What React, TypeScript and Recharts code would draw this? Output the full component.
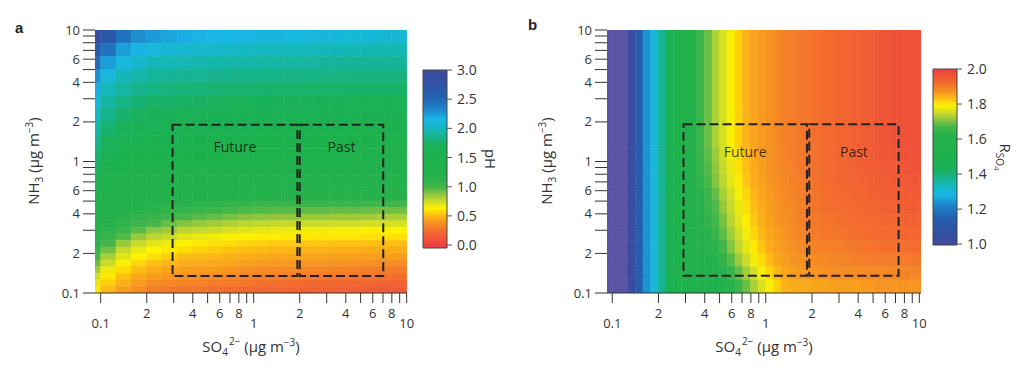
import React from 'react';
import { ScatterChart, XAxis, YAxis, ReferenceArea } from 'recharts';

// ---------------- data ----------------
// panel a cell boundaries
const so4EdgesA = [0.0794, 0.1, 0.1259, 0.1585, 0.1995, 0.2512, 0.3162, 0.3981, 0.5012, 0.631, 0.7943, 1, 1.259, 1.585, 1.995, 2.512, 3.162, 3.981, 5.012, 6.31, 7.943, 10, 12.59];
const nh3EdgesA = [0.1, 0.1122, 0.1259, 0.1413, 0.1585, 0.1778, 0.1995, 0.2239, 0.2512, 0.2818, 0.3162, 0.3548, 0.3981, 0.4467, 0.5012, 0.631, 0.7943, 1, 1.259, 1.585, 1.995, 2.512, 3.162, 3.981, 5.012, 6.31, 7.943, 10];
// panel b cell boundaries
const so4EdgesB = [0.0891, 0.1, 0.1122, 0.1259, 0.1413, 0.1585, 0.1778, 0.1995, 0.2239, 0.2512, 0.2818, 0.3162, 0.3548, 0.3981, 0.4467, 0.5012, 0.5623, 0.631, 0.7079, 0.7943, 0.8913, 1, 1.122, 1.259, 1.413, 1.585, 1.778, 1.995, 2.239, 2.512, 2.818, 3.162, 3.548, 3.981, 4.467, 5.012, 5.623, 6.31, 7.079, 7.943, 8.913, 10, 11.22];
const nh3EdgesB = [0.1, 0.1259, 0.1585, 0.1995, 0.2512, 0.3162, 0.3981, 0.5012, 0.631, 0.7943, 1, 1.259, 10];

const xTicks = [0.1, 0.2, 0.3, 0.4, 0.5, 0.6, 0.7, 0.8, 0.9, 1, 2, 3, 4, 5, 6, 7, 8, 9, 10];
const xTickText = ['0.1', '2', '', '4', '', '6', '', '8', '', '1', '2', '', '4', '', '6', '', '8', '', '10'];
const yTicks = [0.1, 0.2, 0.3, 0.4, 0.5, 0.6, 0.7, 0.8, 0.9, 1, 2, 3, 4, 5, 6, 7, 8, 9, 10];
const yTickText = ['0.1', '2', '', '4', '', '6', '', '', '', '1', '2', '', '4', '', '6', '', '', '', '10'];
const phTicks = [0, 0.5, 1, 1.5, 2, 2.5, 3];
const rTicks = [1, 1.2, 1.4, 1.6, 1.8, 2];

// pH, rows from top (NH3 = 10) to bottom (NH3 = 0.1)
const phGrid = [
  [2.84, 2.68, 2.44, 2.30, 2.25, 2.22, 2.19, 2.17, 2.16, 2.15, 2.14, 2.13, 2.13, 2.12, 2.12, 2.11, 2.11, 2.10, 2.10, 2.09, 2.09, 2.09],
  [2.67, 2.43, 2.24, 2.17, 2.12, 2.09, 2.07, 2.05, 2.04, 2.03, 2.02, 2.01, 2.01, 2.00, 2.00, 1.99, 1.99, 1.98, 1.98, 1.97, 1.97, 1.97],
  [2.49, 2.24, 2.12, 2.04, 1.99, 1.98, 1.97, 1.96, 1.95, 1.94, 1.94, 1.93, 1.93, 1.92, 1.92, 1.91, 1.91, 1.90, 1.90, 1.90, 1.90, 1.90],
  [2.29, 2.12, 1.99, 1.95, 1.91, 1.90, 1.89, 1.88, 1.87, 1.86, 1.86, 1.85, 1.85, 1.84, 1.84, 1.83, 1.83, 1.82, 1.82, 1.82, 1.82, 1.82],
  [2.20, 2.00, 1.92, 1.87, 1.84, 1.82, 1.81, 1.80, 1.79, 1.78, 1.78, 1.77, 1.76, 1.76, 1.76, 1.76, 1.76, 1.75, 1.75, 1.75, 1.75, 1.75],
  [2.11, 1.93, 1.84, 1.79, 1.76, 1.75, 1.74, 1.73, 1.72, 1.71, 1.71, 1.70, 1.70, 1.70, 1.69, 1.69, 1.69, 1.68, 1.68, 1.68, 1.68, 1.68],
  [2.02, 1.86, 1.77, 1.72, 1.70, 1.69, 1.68, 1.67, 1.66, 1.65, 1.65, 1.64, 1.63, 1.63, 1.63, 1.62, 1.62, 1.62, 1.61, 1.61, 1.61, 1.61],
  [1.94, 1.78, 1.69, 1.66, 1.63, 1.63, 1.62, 1.61, 1.60, 1.59, 1.59, 1.58, 1.57, 1.57, 1.56, 1.56, 1.55, 1.55, 1.54, 1.54, 1.53, 1.53],
  [1.88, 1.71, 1.63, 1.60, 1.58, 1.57, 1.56, 1.55, 1.55, 1.54, 1.53, 1.52, 1.51, 1.51, 1.50, 1.50, 1.49, 1.49, 1.48, 1.48, 1.47, 1.47],
  [1.80, 1.63, 1.55, 1.53, 1.52, 1.51, 1.50, 1.49, 1.48, 1.47, 1.46, 1.45, 1.44, 1.44, 1.43, 1.43, 1.43, 1.43, 1.42, 1.42, 1.41, 1.41],
  [1.73, 1.54, 1.48, 1.46, 1.44, 1.43, 1.42, 1.42, 1.41, 1.40, 1.39, 1.39, 1.38, 1.38, 1.37, 1.37, 1.37, 1.37, 1.36, 1.36, 1.36, 1.36],
  [1.63, 1.46, 1.40, 1.38, 1.36, 1.35, 1.35, 1.34, 1.34, 1.33, 1.32, 1.32, 1.32, 1.32, 1.31, 1.31, 1.31, 1.31, 1.30, 1.30, 1.30, 1.30],
  [1.53, 1.38, 1.32, 1.30, 1.27, 1.26, 1.24, 1.23, 1.22, 1.21, 1.19, 1.18, 1.17, 1.17, 1.16, 1.16, 1.15, 1.15, 1.15, 1.14, 1.14, 1.14],
  [1.46, 1.32, 1.25, 1.22, 1.18, 1.15, 1.13, 1.12, 1.10, 1.08, 1.07, 1.05, 1.04, 1.04, 1.03, 1.03, 1.03, 1.03, 1.02, 1.02, 1.01, 1.01],
  [1.41, 1.28, 1.20, 1.16, 1.12, 1.09, 1.07, 1.05, 1.03, 1.00, 0.98, 0.97, 0.96, 0.96, 0.95, 0.95, 0.94, 0.94, 0.93, 0.92, 0.92, 0.92],
  [1.36, 1.23, 1.14, 1.10, 1.06, 1.02, 0.99, 0.96, 0.94, 0.91, 0.88, 0.87, 0.86, 0.86, 0.85, 0.85, 0.84, 0.84, 0.83, 0.82, 0.82, 0.82],
  [1.31, 1.17, 1.09, 1.04, 0.99, 0.93, 0.88, 0.85, 0.83, 0.80, 0.78, 0.77, 0.76, 0.76, 0.75, 0.75, 0.74, 0.74, 0.73, 0.73, 0.72, 0.72],
  [1.25, 1.12, 1.04, 0.96, 0.87, 0.84, 0.78, 0.76, 0.74, 0.72, 0.70, 0.69, 0.68, 0.67, 0.66, 0.66, 0.65, 0.65, 0.64, 0.64, 0.63, 0.63],
  [1.19, 1.07, 0.97, 0.85, 0.78, 0.75, 0.70, 0.68, 0.66, 0.64, 0.63, 0.62, 0.62, 0.61, 0.61, 0.60, 0.60, 0.60, 0.59, 0.59, 0.59, 0.59],
  [1.13, 1.01, 0.85, 0.76, 0.70, 0.67, 0.63, 0.61, 0.59, 0.58, 0.56, 0.55, 0.54, 0.54, 0.53, 0.53, 0.52, 0.52, 0.52, 0.51, 0.51, 0.51],
  [1.07, 0.92, 0.76, 0.68, 0.63, 0.61, 0.58, 0.56, 0.54, 0.52, 0.51, 0.50, 0.49, 0.49, 0.48, 0.48, 0.47, 0.47, 0.46, 0.46, 0.46, 0.46],
  [1.01, 0.82, 0.70, 0.63, 0.59, 0.55, 0.51, 0.50, 0.49, 0.47, 0.46, 0.45, 0.44, 0.44, 0.44, 0.44, 0.43, 0.43, 0.42, 0.42, 0.41, 0.41],
  [0.93, 0.75, 0.64, 0.57, 0.52, 0.49, 0.46, 0.45, 0.45, 0.44, 0.42, 0.41, 0.40, 0.40, 0.39, 0.39, 0.38, 0.38, 0.37, 0.36, 0.36, 0.36],
  [0.83, 0.67, 0.58, 0.51, 0.46, 0.44, 0.42, 0.41, 0.41, 0.39, 0.37, 0.36, 0.35, 0.35, 0.34, 0.34, 0.33, 0.32, 0.31, 0.31, 0.30, 0.30],
  [0.74, 0.61, 0.52, 0.45, 0.41, 0.39, 0.37, 0.37, 0.35, 0.34, 0.32, 0.31, 0.30, 0.30, 0.29, 0.28, 0.27, 0.27, 0.26, 0.25, 0.24, 0.24],
  [0.68, 0.55, 0.47, 0.41, 0.36, 0.34, 0.33, 0.32, 0.30, 0.29, 0.28, 0.26, 0.25, 0.24, 0.23, 0.23, 0.22, 0.21, 0.21, 0.20, 0.19, 0.19],
  [0.61, 0.50, 0.42, 0.36, 0.31, 0.28, 0.27, 0.27, 0.25, 0.24, 0.22, 0.21, 0.20, 0.19, 0.18, 0.18, 0.17, 0.16, 0.15, 0.14, 0.14, 0.14],
];

// R_SO4, rows from top (NH3 1.26-10) to bottom (NH3 0.1)
const rGrid = [
  [0.95, 0.95, 0.95, 1.03, 1.14, 1.24, 1.30, 1.37, 1.45, 1.52, 1.57, 1.61, 1.65, 1.69, 1.73, 1.76, 1.785, 1.815, 1.84, 1.855, 1.865, 1.875, 1.885, 1.895, 1.90, 1.905, 1.91, 1.915, 1.92, 1.925, 1.93, 1.935, 1.94, 1.945, 1.95, 1.955, 1.96, 1.965, 1.97, 1.97, 1.97, 1.97],
  [0.95, 0.95, 0.95, 1.03, 1.14, 1.24, 1.30, 1.37, 1.45, 1.52, 1.568, 1.607, 1.645, 1.683, 1.721, 1.753, 1.78, 1.808, 1.835, 1.852, 1.863, 1.873, 1.883, 1.893, 1.90, 1.905, 1.91, 1.915, 1.92, 1.925, 1.93, 1.935, 1.94, 1.945, 1.95, 1.955, 1.96, 1.963, 1.965, 1.968, 1.97, 1.97],
  [0.95, 0.95, 0.95, 1.03, 1.14, 1.24, 1.30, 1.37, 1.45, 1.52, 1.566, 1.603, 1.64, 1.676, 1.713, 1.747, 1.774, 1.802, 1.829, 1.848, 1.861, 1.871, 1.881, 1.891, 1.895, 1.905, 1.91, 1.915, 1.92, 1.925, 1.93, 1.935, 1.94, 1.945, 1.95, 1.953, 1.955, 1.958, 1.96, 1.963, 1.965, 1.965],
  [0.95, 0.95, 0.95, 1.03, 1.14, 1.24, 1.30, 1.37, 1.45, 1.52, 1.563, 1.60, 1.634, 1.669, 1.705, 1.74, 1.769, 1.795, 1.824, 1.845, 1.858, 1.868, 1.878, 1.888, 1.895, 1.90, 1.905, 1.915, 1.92, 1.925, 1.93, 1.933, 1.935, 1.94, 1.945, 1.948, 1.95, 1.953, 1.955, 1.958, 1.96, 1.96],
  [0.95, 0.95, 0.95, 1.03, 1.14, 1.24, 1.30, 1.37, 1.45, 1.52, 1.559, 1.593, 1.625, 1.656, 1.688, 1.727, 1.757, 1.783, 1.812, 1.838, 1.854, 1.864, 1.874, 1.884, 1.89, 1.90, 1.905, 1.91, 1.915, 1.92, 1.925, 1.928, 1.93, 1.935, 1.94, 1.943, 1.945, 1.948, 1.95, 1.953, 1.955, 1.955],
  [0.95, 0.95, 0.95, 1.03, 1.14, 1.24, 1.30, 1.37, 1.45, 1.52, 1.556, 1.588, 1.618, 1.647, 1.676, 1.714, 1.748, 1.775, 1.803, 1.83, 1.849, 1.861, 1.871, 1.881, 1.885, 1.895, 1.90, 1.91, 1.915, 1.918, 1.92, 1.923, 1.925, 1.928, 1.93, 1.935, 1.94, 1.943, 1.945, 1.948, 1.95, 1.95],
  [0.95, 0.95, 0.95, 1.03, 1.14, 1.24, 1.30, 1.37, 1.45, 1.52, 1.553, 1.583, 1.61, 1.636, 1.663, 1.70, 1.738, 1.766, 1.793, 1.822, 1.844, 1.858, 1.868, 1.878, 1.885, 1.895, 1.90, 1.905, 1.91, 1.913, 1.915, 1.918, 1.92, 1.923, 1.925, 1.928, 1.93, 1.933, 1.935, 1.938, 1.94, 1.94],
  [0.95, 0.95, 0.95, 1.03, 1.14, 1.24, 1.30, 1.37, 1.45, 1.52, 1.548, 1.576, 1.60, 1.622, 1.645, 1.683, 1.723, 1.755, 1.781, 1.81, 1.836, 1.852, 1.863, 1.873, 1.88, 1.89, 1.895, 1.90, 1.905, 1.908, 1.91, 1.913, 1.915, 1.918, 1.92, 1.923, 1.925, 1.928, 1.93, 1.93, 1.93, 1.93],
  [0.95, 0.95, 0.95, 1.03, 1.14, 1.24, 1.30, 1.37, 1.45, 1.52, 1.545, 1.57, 1.59, 1.61, 1.63, 1.665, 1.705, 1.742, 1.77, 1.797, 1.825, 1.846, 1.859, 1.869, 1.875, 1.885, 1.89, 1.893, 1.895, 1.898, 1.90, 1.903, 1.905, 1.908, 1.91, 1.913, 1.915, 1.915, 1.915, 1.918, 1.92, 1.92],
  [0.95, 0.95, 0.95, 1.03, 1.14, 1.24, 1.30, 1.37, 1.45, 1.52, 1.54, 1.56, 1.575, 1.59, 1.60, 1.64, 1.68, 1.72, 1.752, 1.78, 1.807, 1.833, 1.851, 1.862, 1.87, 1.875, 1.88, 1.883, 1.885, 1.888, 1.89, 1.893, 1.895, 1.898, 1.90, 1.90, 1.90, 1.90, 1.90, 1.903, 1.905, 1.905],
  [0.95, 0.95, 0.95, 1.03, 1.14, 1.24, 1.30, 1.37, 1.45, 1.52, 1.53, 1.54, 1.55, 1.56, 1.57, 1.605, 1.645, 1.685, 1.725, 1.756, 1.782, 1.811, 1.837, 1.853, 1.86, 1.865, 1.87, 1.873, 1.875, 1.878, 1.88, 1.88, 1.88, 1.883, 1.885, 1.885, 1.885, 1.888, 1.89, 1.89, 1.89, 1.89],
  [0.95, 0.95, 0.95, 1.03, 1.14, 1.24, 1.30, 1.37, 1.45, 1.52, 1.52, 1.52, 1.53, 1.53, 1.53, 1.57, 1.61, 1.65, 1.69, 1.73, 1.76, 1.785, 1.815, 1.84, 1.845, 1.85, 1.85, 1.855, 1.855, 1.86, 1.86, 1.86, 1.86, 1.865, 1.865, 1.87, 1.87, 1.87, 1.87, 1.87, 1.87, 1.87],
];

// dashed regions: [so4 min, so4 max, nh3 min, nh3 max]
const futureA = [0.295, 1.93, 0.1347, 1.905];
const pastA = [2.0, 7.03, 0.1347, 1.905];
const futureB = [0.291, 1.854, 0.1354, 1.92];
const pastB = [1.92, 7.33, 0.1354, 1.92];

// colour map (0 = blue end, 1 = red end)
const cmapT = [0, 0.08, 0.15, 0.22, 0.28, 0.33, 0.38, 0.43, 0.5, 0.62, 0.67, 0.71, 0.75, 0.79, 0.83, 0.87, 0.92, 1];
const cmapColors = ['#3d4a9d', '#2f52a5', '#2460b0', '#1e82c8', '#19b6e6', '#14b8c0', '#16b38a', '#19b159', '#1db14c', '#26b14b', '#46b749', '#8dc63f', '#cbdb2a', '#fff200', '#fdbd14', '#f79520', '#f36c2d', '#ec403f'];
const underColor = '#5b53a3';

// ---------------- helpers ----------------
const FONT = '"Open Sans", "Noto Sans", "DejaVu Sans", sans-serif';
const TXT = '#333';

function hex(h: string) {
  return [parseInt(h.slice(1, 3), 16), parseInt(h.slice(3, 5), 16), parseInt(h.slice(5, 7), 16)];
}
function colorAt(t: number): string {
  if (t < 0) return underColor;
  if (t >= 1) return cmapColors[cmapColors.length - 1];
  let i = 0;
  while (i < cmapT.length - 2 && t > cmapT[i + 1]) i++;
  const f = (t - cmapT[i]) / (cmapT[i + 1] - cmapT[i]);
  const a = hex(cmapColors[i]);
  const b = hex(cmapColors[i + 1]);
  const c = a.map((v, k) => Math.round(v + (b[k] - v) * f));
  return `rgb(${c[0]},${c[1]},${c[2]})`;
}
const phToT = (v: number) => 1 - v / 3;
const rToT = (v: number) => v - 1;

const XTick = (p: any) => {
  const v = p.payload ? p.payload.value : undefined;
  const i = xTicks.findIndex((t) => Math.abs(t - v) < 1e-9);
  const txt = i >= 0 ? xTickText[i] : '';
  if (!txt) return <g />;
  const major = txt === '0.1' || txt === '1' || txt === '10';
  return (
    <text x={p.x} y={p.y + (major ? 23 : 13)} textAnchor="middle" fontSize={13} fill={TXT} fontFamily={FONT}>
      {txt}
    </text>
  );
};
const YTick = (p: any) => {
  const v = p.payload ? p.payload.value : undefined;
  const i = yTicks.findIndex((t) => Math.abs(t - v) < 1e-9);
  const txt = i >= 0 ? yTickText[i] : '';
  if (!txt) return <g />;
  return (
    <text x={p.x - 1} y={p.y + 4.5} textAnchor="end" fontSize={13} fill={TXT} fontFamily={FONT}>
      {txt}
    </text>
  );
};

type PanelProps = {
  grid: number[][];
  xEdges: number[];
  yEdges: number[];
  toT: (v: number) => number;
  xDomain: [number, number];
  rightMargin: number;
  future: number[];
  past: number[];
  labelOffset: number;
};

function HeatPanel({ grid, xEdges, yEdges, toT, xDomain, rightMargin, future, past, labelOffset }: PanelProps) {
  const nRows = yEdges.length - 1;
  const cells: React.ReactNode[] = [];
  grid.forEach((row, i) => {
    const r = nRows - 1 - i;
    row.forEach((v, c) => {
      if (c + 1 >= xEdges.length) return;
      const col = colorAt(toT(v));
      cells.push(
        <ReferenceArea
          key={`c${i}-${c}`}
          x1={xEdges[c]}
          x2={xEdges[c + 1]}
          y1={yEdges[r]}
          y2={yEdges[r + 1]}
          fill={col}
          fillOpacity={1}
          stroke={col}
          strokeWidth={0.6}
          ifOverflow="hidden"
        />
      );
    });
  });
  const boxes = [
    { name: 'Future', b: future },
    { name: 'Past', b: past },
  ];
  return (
    <ScatterChart width={512} height={366} margin={{ top: 30, right: rightMargin, bottom: 43, left: 35 }} style={{ fontFamily: FONT }}>
      <XAxis
        type="number"
        dataKey="x"
        scale="log"
        domain={xDomain}
        allowDataOverflow
        ticks={xTicks}
        interval={0}
        tick={(p: any) => <XTick {...p} />}
        tickSize={10}
        stroke="#333"
        height={30}
      />
      <YAxis
        type="number"
        dataKey="y"
        scale="log"
        domain={[0.1, 10]}
        allowDataOverflow
        ticks={yTicks}
        interval={0}
        tick={(p: any) => <YTick {...p} />}
        tickSize={12}
        axisLine={false}
        stroke="#333"
        width={60}
      />
      {cells}
      {boxes.map((bx) => (
        <ReferenceArea
          key={bx.name}
          x1={bx.b[0]}
          x2={bx.b[1]}
          y1={bx.b[2]}
          y2={bx.b[3]}
          fill="none"
          fillOpacity={0}
          stroke="#222"
          strokeWidth={2}
          strokeDasharray="9 4"
          isFront
          ifOverflow="visible"
          label={{
            value: bx.name,
            position: 'insideTop',
            offset: labelOffset,
            fill: 'rgba(0,0,0,0.72)',
            fontSize: 14,
            fontFamily: FONT,
          }}
        />
      ))}
    </ScatterChart>
  );
}

type BarProps = { domain: [number, number]; ticks: number[]; gradId: string; top: number; bottom: number };
function ColorBar({ domain, ticks, gradId, top, bottom }: BarProps) {
  return (
    <ScatterChart width={114} height={300} margin={{ top, right: 0, bottom: 300 - bottom, left: 23 }} style={{ fontFamily: FONT }}>
      <XAxis type="number" dataKey="x" domain={[0, 1]} allowDataOverflow hide />
      <YAxis
        type="number"
        dataKey="y"
        orientation="right"
        domain={domain}
        allowDataOverflow
        ticks={ticks}
        interval={0}
        width={67}
        axisLine={false}
        tickSize={5}
        tickMargin={5}
        stroke="#555"
        tick={{ fill: TXT, fontSize: 14, fontFamily: FONT }}
        tickFormatter={(v: number) => v.toFixed(1)}
      />
      <ReferenceArea x1={0} x2={1} y1={domain[0]} y2={domain[1]} fill={`url(#${gradId})`} fillOpacity={1} stroke="#444" strokeWidth={1} ifOverflow="visible" />
    </ScatterChart>
  );
}

function Nh3Title({ x, y }: { x: number; y: number }) {
  return (
    <text transform={`translate(${x},${y}) rotate(-90)`} textAnchor="middle" fontSize={15} fill={TXT}>
      NH<tspan fontSize={10} dy={4}>3</tspan>
      <tspan dy={-4}> (μg m</tspan>
      <tspan fontSize={10} dy={-6}>−3</tspan>
      <tspan dy={6}>)</tspan>
    </text>
  );
}
function So4Title({ x, y }: { x: number; y: number }) {
  return (
    <text x={x} y={y} textAnchor="middle" fontSize={15} fill={TXT}>
      SO<tspan fontSize={10} dy={4}>4</tspan>
      <tspan fontSize={10} dy={-11} dx={1}>2−</tspan>
      <tspan dy={7}> (μg m</tspan>
      <tspan fontSize={10} dy={-6}>−3</tspan>
      <tspan dy={6}>)</tspan>
    </text>
  );
}

export default function App() {
  const gradA = cmapT.map((t, i) => ({ off: (3 * t) / 3.05, col: cmapColors[i] }));
  const gradB = [...cmapT].reverse().map((t, i) => ({ off: (1 - t) / 1.005, col: cmapColors[cmapColors.length - 1 - i] }));
  return (
    <div style={{ position: 'absolute', left: 0, top: 0, width: 1024, height: 366, background: '#fff', fontFamily: FONT }}>
      <svg width={0} height={0} style={{ position: 'absolute' }}>
        <defs>
          <linearGradient id="gradA" x1="0" y1="0" x2="0" y2="1">
            {gradA.map((s, i) => (
              <stop key={i} offset={s.off} stopColor={s.col} />
            ))}
            <stop offset={1} stopColor={cmapColors[cmapColors.length - 1]} />
          </linearGradient>
          <linearGradient id="gradB" x1="0" y1="0" x2="0" y2="1">
            {gradB.map((s, i) => (
              <stop key={i} offset={s.off} stopColor={s.col} />
            ))}
            <stop offset={1} stopColor={cmapColors[0]} />
          </linearGradient>
        </defs>
      </svg>
      <div style={{ position: 'absolute', left: 0, top: 0 }}>
        <HeatPanel grid={phGrid} xEdges={so4EdgesA} yEdges={nh3EdgesA} toT={phToT} xDomain={[0.0918, 10.05]} rightMargin={105} future={futureA} past={pastA} labelOffset={17} />
      </div>
      <div style={{ position: 'absolute', left: 512, top: 0 }}>
        <HeatPanel grid={rGrid} xEdges={so4EdgesB} yEdges={nh3EdgesB} toT={rToT} xDomain={[0.0924, 10.26]} rightMargin={103} future={futureB} past={pastB} labelOffset={23} />
      </div>
      <div style={{ position: 'absolute', left: 400, top: 0 }}>
        <ColorBar domain={[-0.05, 3]} ticks={phTicks} gradId="gradA" top={70} bottom={248} />
      </div>
      <div style={{ position: 'absolute', left: 910, top: 0 }}>
        <ColorBar domain={[0.995, 2]} ticks={rTicks} gradId="gradB" top={69} bottom={245} />
      </div>
      <svg width={1024} height={366} style={{ position: 'absolute', left: 0, top: 0, pointerEvents: 'none', fontFamily: FONT }}>
        <text x={15} y={33} fontSize={15} fontWeight="bold" fill="#222" fontFamily="'Liberation Sans', Arial, sans-serif">a</text>
        <text x={528} y={30} fontSize={15} fontWeight="bold" fill="#222" fontFamily="'Liberation Sans', Arial, sans-serif">b</text>
        <Nh3Title x={39} y={161} />
        <Nh3Title x={552} y={161} />
        <So4Title x={251} y={352} />
        <So4Title x={764} y={352} />
        <text transform="translate(485,159) rotate(90)" textAnchor="middle" fontSize={15} fill={TXT}>pH</text>
        <text transform="translate(1000,157) rotate(90)" textAnchor="middle" fontSize={15} fill={TXT}>
          R<tspan fontSize={10} dy={4}>SO</tspan>
          <tspan fontSize={8} dy={2}>4</tspan>
        </text>
      </svg>
    </div>
  );
}
